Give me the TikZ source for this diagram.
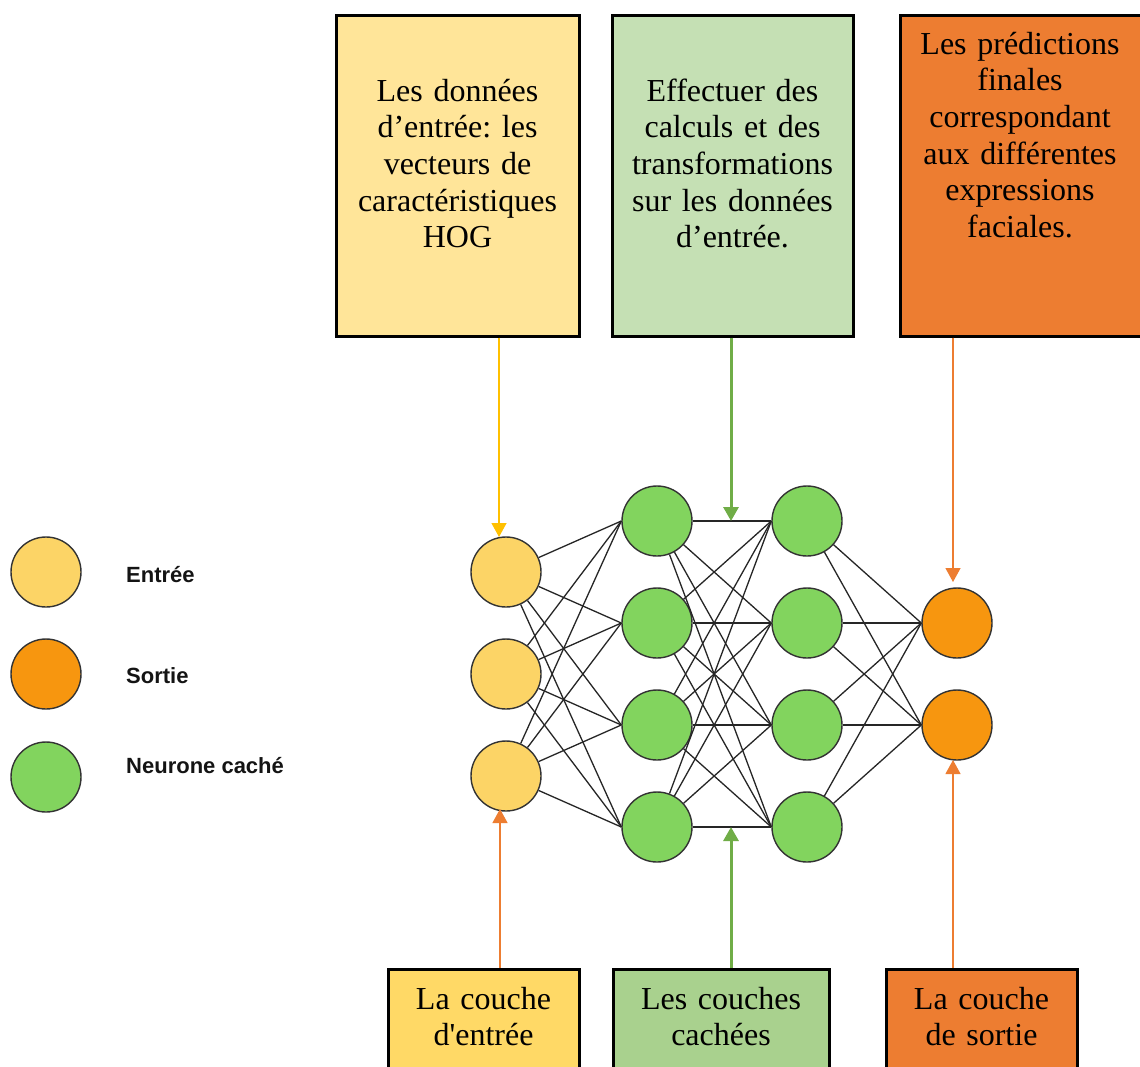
\documentclass[tikz,border=0pt]{standalone}
\usepackage{fontspec}
\setmainfont{Liberation Serif}
\newfontfamily\legendfont{Liberation Sans}
\usetikzlibrary{arrows.meta}
\frenchspacing

\definecolor{inFill}{HTML}{FCD466}
\definecolor{outFill}{HTML}{F7960F}
\definecolor{hidFill}{HTML}{82D45E}
\definecolor{ringGray}{HTML}{333333}
\definecolor{linkGray}{HTML}{262626}
\definecolor{boxYellowLight}{HTML}{FFE599}
\definecolor{boxGreenLight}{HTML}{C5E0B4}
\definecolor{boxOrange}{HTML}{ED7D31}
\definecolor{boxYellow}{HTML}{FFD966}
\definecolor{boxGreen}{HTML}{A9D18E}
\definecolor{arrYellow}{HTML}{FFC000}
\definecolor{arrOrange}{HTML}{ED7D31}
\definecolor{arrGreen}{HTML}{70AD47}

\begin{document}
\begin{tikzpicture}[x=1pt,y=-1pt,
  neuron/.style={circle,draw=ringGray,line width=1.4pt,minimum size=70pt,inner sep=0pt},
  link/.style={draw=linkGray,line width=1.3pt},
  infobox/.style={draw=black,line width=3pt,inner sep=0pt},
  boxtext/.style={anchor=base,text width=240pt,align=center,inner sep=0pt,
    font=\fontsize{32}{36.7}\selectfont},
  legendtext/.style={anchor=base west,inner sep=0pt,text=black!92,
    font=\legendfont\bfseries\fontsize{22}{26}\selectfont},
  thinarrow/.style={line width=1.2pt,-{Triangle[length=14pt,width=15pt]}},
  thickarrow/.style={line width=3pt,-{Triangle[length=14pt,width=15pt]}}]

\useasboundingbox (0,0) rectangle (1140,1066);
\clip (0,0) rectangle (1140,1066);
\fill[white] (0,0) rectangle (1140,1066);

% explanation boxes above the network
\node[infobox,fill=boxYellowLight,minimum width=243pt,minimum height=321pt] (topIn) at (457.5,175.5) {};
\node[infobox,fill=boxGreenLight,minimum width=241pt,minimum height=321pt] (topHid) at (732.5,175.5) {};
\node[infobox,fill=boxOrange,minimum width=245pt,minimum height=321pt] (topOut) at (1022.5,175.5) {};
\node[boxtext] (topInText) at (457.5,101) {Les données\\d’entrée: les\\vecteurs de\\caractéristiques\\HOG};
\node[boxtext] (topHidText) at (732.5,101) {Effectuer des\\calculs et des\\transformations\\sur les données\\d’entrée.};
\node[boxtext] (topOutText) at (1020,54) {Les prédictions\\finales\\correspondant\\aux différentes\\expressions\\faciales.};

% layer name boxes below the network
\node[infobox,fill=boxYellow,minimum width=191pt,minimum height=121pt] (botIn) at (483.5,1029.5) {};
\node[infobox,fill=boxGreen,minimum width=216pt,minimum height=121pt] (botHid) at (721,1029.5) {};
\node[infobox,fill=boxOrange,minimum width=191pt,minimum height=121pt] (botOut) at (981.5,1029.5) {};
\node[boxtext,text width=185pt] (botInText) at (483.5,1009) {La couche\\d\textquotesingle entrée};
\node[boxtext,text width=210pt] (botHidText) at (721,1009) {Les couches\\cachées};
\node[boxtext,text width=185pt] (botOutText) at (981.5,1009) {La couche\\de sortie};

% legend
\node[neuron,fill=inFill] (legIn) at (46,572) {};
\node[neuron,fill=outFill] (legOut) at (46,674) {};
\node[neuron,fill=hidFill] (legHid) at (46,777) {};
\node[legendtext] (legInText) at (126,582) {Entrée};
\node[legendtext] (legOutText) at (126,683) {Sortie};
\node[legendtext] (legHidText) at (126,773) {Neurone caché};

% network neurons
\node[neuron,fill=inFill] (i1) at (506,572) {};
\node[neuron,fill=inFill] (i2) at (506,674) {};
\node[neuron,fill=inFill] (i3) at (506,776) {};
\foreach \k/\yy in {1/521,2/623,3/725,4/827}{
  \node[neuron,fill=hidFill] (h\k) at (657,\yy) {};
  \node[neuron,fill=hidFill] (g\k) at (807,\yy) {};
}
\node[neuron,fill=outFill] (o1) at (957,623) {};
\node[neuron,fill=outFill] (o2) at (957,725) {};

% fully connected links
\foreach \a in {1,2,3}{\foreach \b in {1,...,4}{\draw[link] (i\a) -- (h\b.west);}}
\foreach \a in {1,...,4}{\foreach \b in {1,...,4}{\draw[link] (h\a) -- (g\b.west);}}
\foreach \a in {1,...,4}{\foreach \b in {1,2}{\draw[link] (g\a) -- (o\b.west);}}

% arrow targets
\coordinate (tipIn) at (499,537);
\coordinate (tipHidTop) at (731,521);
\coordinate (tipOutTop) at (953,582);
\coordinate (tipInBot) at (500,809);
\coordinate (tipHidBot) at (731,827);
\coordinate (tipOutBot) at (953,760);

% arrows from the boxes to the network
\draw[thinarrow,draw=arrYellow,fill=arrYellow] (topIn.south -| tipIn) -- (tipIn);
\draw[thickarrow,draw=arrGreen,fill=arrGreen] (topHid.south -| tipHidTop) -- (tipHidTop);
\draw[thinarrow,draw=arrOrange,fill=arrOrange] (topOut.south -| tipOutTop) -- (tipOutTop);
\draw[thinarrow,draw=arrOrange,fill=arrOrange] (botIn.north -| tipInBot) -- (tipInBot);
\draw[thickarrow,draw=arrGreen,fill=arrGreen] (botHid.north -| tipHidBot) -- (tipHidBot);
\draw[thinarrow,draw=arrOrange,fill=arrOrange] (botOut.north -| tipOutBot) -- (tipOutBot);
\end{tikzpicture}
\end{document}
